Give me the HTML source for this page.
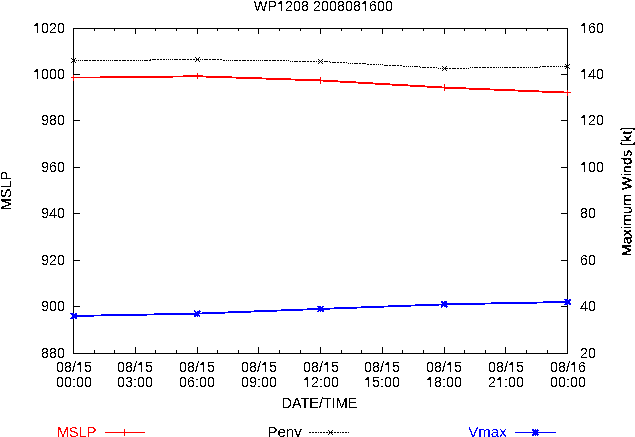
<!DOCTYPE html>
<html><head><meta charset="utf-8"><title>WP1208 2008081600</title>
<style>
html,body{margin:0;padding:0;background:#fff;}
body{width:635px;height:437px;overflow:hidden;}
svg{display:block;}
text{font-family:"Liberation Sans",sans-serif;font-size:14.4px;}
</style></head>
<body>
<svg width="635" height="437" viewBox="0 0 635 437">
<defs>
<filter id="th" x="0" y="0" width="635" height="437" filterUnits="userSpaceOnUse" color-interpolation-filters="sRGB">
<feComponentTransfer><feFuncA type="discrete" tableValues="0 1"/></feComponentTransfer>
</filter>
<filter id="th2" x="0" y="0" width="635" height="437" filterUnits="userSpaceOnUse" color-interpolation-filters="sRGB">
<feComponentTransfer><feFuncA type="discrete" tableValues="0 0 1 1 1"/></feComponentTransfer>
</filter>
</defs>
<rect x="0" y="0" width="635" height="437" fill="#fff"/>
<g shape-rendering="crispEdges">
<rect x="73" y="28" width="495" height="1" fill="#000"/>
<rect x="73" y="353" width="495" height="1" fill="#000"/>
<rect x="73" y="28" width="1" height="326" fill="#000"/>
<rect x="567" y="28" width="1" height="326" fill="#000"/>
<rect x="73" y="28" width="1" height="6" fill="#000"/>
<rect x="73" y="347" width="1" height="7" fill="#000"/>
<rect x="94" y="28" width="1" height="3" fill="#000"/>
<rect x="94" y="350" width="1" height="4" fill="#000"/>
<rect x="114" y="28" width="1" height="3" fill="#000"/>
<rect x="114" y="350" width="1" height="4" fill="#000"/>
<rect x="135" y="28" width="1" height="6" fill="#000"/>
<rect x="135" y="347" width="1" height="7" fill="#000"/>
<rect x="155" y="28" width="1" height="3" fill="#000"/>
<rect x="155" y="350" width="1" height="4" fill="#000"/>
<rect x="176" y="28" width="1" height="3" fill="#000"/>
<rect x="176" y="350" width="1" height="4" fill="#000"/>
<rect x="197" y="28" width="1" height="6" fill="#000"/>
<rect x="197" y="347" width="1" height="7" fill="#000"/>
<rect x="217" y="28" width="1" height="3" fill="#000"/>
<rect x="217" y="350" width="1" height="4" fill="#000"/>
<rect x="238" y="28" width="1" height="3" fill="#000"/>
<rect x="238" y="350" width="1" height="4" fill="#000"/>
<rect x="258" y="28" width="1" height="6" fill="#000"/>
<rect x="258" y="347" width="1" height="7" fill="#000"/>
<rect x="279" y="28" width="1" height="3" fill="#000"/>
<rect x="279" y="350" width="1" height="4" fill="#000"/>
<rect x="300" y="28" width="1" height="3" fill="#000"/>
<rect x="300" y="350" width="1" height="4" fill="#000"/>
<rect x="320" y="28" width="1" height="6" fill="#000"/>
<rect x="320" y="347" width="1" height="7" fill="#000"/>
<rect x="341" y="28" width="1" height="3" fill="#000"/>
<rect x="341" y="350" width="1" height="4" fill="#000"/>
<rect x="361" y="28" width="1" height="3" fill="#000"/>
<rect x="361" y="350" width="1" height="4" fill="#000"/>
<rect x="382" y="28" width="1" height="6" fill="#000"/>
<rect x="382" y="347" width="1" height="7" fill="#000"/>
<rect x="402" y="28" width="1" height="3" fill="#000"/>
<rect x="402" y="350" width="1" height="4" fill="#000"/>
<rect x="423" y="28" width="1" height="3" fill="#000"/>
<rect x="423" y="350" width="1" height="4" fill="#000"/>
<rect x="444" y="28" width="1" height="6" fill="#000"/>
<rect x="444" y="347" width="1" height="7" fill="#000"/>
<rect x="464" y="28" width="1" height="3" fill="#000"/>
<rect x="464" y="350" width="1" height="4" fill="#000"/>
<rect x="485" y="28" width="1" height="3" fill="#000"/>
<rect x="485" y="350" width="1" height="4" fill="#000"/>
<rect x="505" y="28" width="1" height="6" fill="#000"/>
<rect x="505" y="347" width="1" height="7" fill="#000"/>
<rect x="526" y="28" width="1" height="3" fill="#000"/>
<rect x="526" y="350" width="1" height="4" fill="#000"/>
<rect x="547" y="28" width="1" height="3" fill="#000"/>
<rect x="547" y="350" width="1" height="4" fill="#000"/>
<rect x="567" y="28" width="1" height="6" fill="#000"/>
<rect x="567" y="347" width="1" height="7" fill="#000"/>
<rect x="73" y="28" width="7" height="1" fill="#000"/>
<rect x="561" y="28" width="7" height="1" fill="#000"/>
<rect x="73" y="74" width="7" height="1" fill="#000"/>
<rect x="561" y="74" width="7" height="1" fill="#000"/>
<rect x="73" y="120" width="7" height="1" fill="#000"/>
<rect x="561" y="120" width="7" height="1" fill="#000"/>
<rect x="73" y="167" width="7" height="1" fill="#000"/>
<rect x="561" y="167" width="7" height="1" fill="#000"/>
<rect x="73" y="213" width="7" height="1" fill="#000"/>
<rect x="561" y="213" width="7" height="1" fill="#000"/>
<rect x="73" y="260" width="7" height="1" fill="#000"/>
<rect x="561" y="260" width="7" height="1" fill="#000"/>
<rect x="73" y="306" width="7" height="1" fill="#000"/>
<rect x="561" y="306" width="7" height="1" fill="#000"/>
<rect x="73" y="353" width="7" height="1" fill="#000"/>
<rect x="561" y="353" width="7" height="1" fill="#000"/>
</g>
<g shape-rendering="crispEdges">
<polyline points="73.5,60.66 197.5,59.61 320.5,61.47 444.5,68.38 567.5,66.62" fill="none" stroke="#000" stroke-width="1" stroke-dasharray="2 1 1 1 1 1 1 1 1 1 4 1 2 1 4 1 2 1 2 1" />
<rect x="71" y="58" width="1" height="1" fill="#000"/><rect x="71" y="62" width="1" height="1" fill="#000"/><rect x="72" y="59" width="1" height="1" fill="#000"/><rect x="72" y="61" width="1" height="1" fill="#000"/><rect x="73" y="60" width="1" height="1" fill="#000"/><rect x="74" y="61" width="1" height="1" fill="#000"/><rect x="74" y="59" width="1" height="1" fill="#000"/><rect x="75" y="62" width="1" height="1" fill="#000"/><rect x="75" y="58" width="1" height="1" fill="#000"/>
<rect x="195" y="57" width="1" height="1" fill="#000"/><rect x="195" y="61" width="1" height="1" fill="#000"/><rect x="196" y="58" width="1" height="1" fill="#000"/><rect x="196" y="60" width="1" height="1" fill="#000"/><rect x="197" y="59" width="1" height="1" fill="#000"/><rect x="198" y="60" width="1" height="1" fill="#000"/><rect x="198" y="58" width="1" height="1" fill="#000"/><rect x="199" y="61" width="1" height="1" fill="#000"/><rect x="199" y="57" width="1" height="1" fill="#000"/>
<rect x="318" y="59" width="1" height="1" fill="#000"/><rect x="318" y="63" width="1" height="1" fill="#000"/><rect x="319" y="60" width="1" height="1" fill="#000"/><rect x="319" y="62" width="1" height="1" fill="#000"/><rect x="320" y="61" width="1" height="1" fill="#000"/><rect x="321" y="62" width="1" height="1" fill="#000"/><rect x="321" y="60" width="1" height="1" fill="#000"/><rect x="322" y="63" width="1" height="1" fill="#000"/><rect x="322" y="59" width="1" height="1" fill="#000"/>
<rect x="442" y="66" width="1" height="1" fill="#000"/><rect x="442" y="70" width="1" height="1" fill="#000"/><rect x="443" y="67" width="1" height="1" fill="#000"/><rect x="443" y="69" width="1" height="1" fill="#000"/><rect x="444" y="68" width="1" height="1" fill="#000"/><rect x="445" y="69" width="1" height="1" fill="#000"/><rect x="445" y="67" width="1" height="1" fill="#000"/><rect x="446" y="70" width="1" height="1" fill="#000"/><rect x="446" y="66" width="1" height="1" fill="#000"/>
<rect x="565" y="64" width="1" height="1" fill="#000"/><rect x="565" y="68" width="1" height="1" fill="#000"/><rect x="566" y="65" width="1" height="1" fill="#000"/><rect x="566" y="67" width="1" height="1" fill="#000"/><rect x="567" y="66" width="1" height="1" fill="#000"/><rect x="568" y="67" width="1" height="1" fill="#000"/><rect x="568" y="65" width="1" height="1" fill="#000"/><rect x="569" y="68" width="1" height="1" fill="#000"/><rect x="569" y="64" width="1" height="1" fill="#000"/>
<polyline points="73.5,77.57 103,77.43 197.5,76.27 320.5,80.42 444.5,87.57 567.5,92.6" fill="none" stroke="#ff0000" stroke-width="1.87"/>
<rect x="73" y="75" width="1" height="6" fill="#ff0000"/>
<rect x="71" y="77" width="6" height="1" fill="#ff0000"/>
<rect x="197" y="73" width="1" height="6" fill="#ff0000"/>
<rect x="194" y="76" width="7" height="1" fill="#ff0000"/>
<rect x="320" y="77" width="1" height="7" fill="#ff0000"/>
<rect x="317" y="80" width="7" height="1" fill="#ff0000"/>
<rect x="444" y="84" width="1" height="7" fill="#ff0000"/>
<rect x="441" y="87" width="7" height="1" fill="#ff0000"/>
<rect x="567" y="90" width="1" height="6" fill="#ff0000"/>
<rect x="564" y="92" width="7" height="1" fill="#ff0000"/>
<polyline points="73.5,315.97 197.5,313.62 320.5,308.92 444.5,304.35 567.5,301.98" fill="none" stroke="#0000ff" stroke-width="1.87"/>
<rect x="70" y="313" width="4" height="1" fill="#0000ff"/><rect x="75" y="313" width="2" height="1" fill="#0000ff"/><rect x="71" y="314" width="6" height="1" fill="#0000ff"/><rect x="72" y="315" width="5" height="1" fill="#0000ff"/><rect x="72" y="316" width="5" height="1" fill="#0000ff"/><rect x="71" y="317" width="6" height="1" fill="#0000ff"/><rect x="70" y="318" width="4" height="1" fill="#0000ff"/><rect x="75" y="318" width="2" height="1" fill="#0000ff"/>
<rect x="194" y="310" width="1" height="1" fill="#0000ff"/><rect x="199" y="310" width="1" height="1" fill="#0000ff"/><rect x="194" y="311" width="2" height="1" fill="#0000ff"/><rect x="197" y="311" width="4" height="1" fill="#0000ff"/><rect x="195" y="312" width="5" height="1" fill="#0000ff"/><rect x="194" y="313" width="7" height="1" fill="#0000ff"/><rect x="194" y="314" width="5" height="1" fill="#0000ff"/><rect x="194" y="315" width="6" height="1" fill="#0000ff"/><rect x="194" y="316" width="2" height="1" fill="#0000ff"/><rect x="197" y="316" width="1" height="1" fill="#0000ff"/><rect x="199" y="316" width="1" height="1" fill="#0000ff"/>
<rect x="317" y="306" width="4" height="1" fill="#0000ff"/><rect x="322" y="306" width="2" height="1" fill="#0000ff"/><rect x="318" y="307" width="5" height="1" fill="#0000ff"/><rect x="317" y="308" width="7" height="1" fill="#0000ff"/><rect x="317" y="309" width="7" height="1" fill="#0000ff"/><rect x="318" y="310" width="6" height="1" fill="#0000ff"/><rect x="317" y="311" width="2" height="1" fill="#0000ff"/><rect x="320" y="311" width="1" height="1" fill="#0000ff"/><rect x="322" y="311" width="2" height="1" fill="#0000ff"/>
<rect x="441" y="301" width="2" height="1" fill="#0000ff"/><rect x="444" y="301" width="3" height="1" fill="#0000ff"/><rect x="441" y="302" width="6" height="1" fill="#0000ff"/><rect x="442" y="303" width="6" height="1" fill="#0000ff"/><rect x="441" y="304" width="7" height="1" fill="#0000ff"/><rect x="441" y="305" width="6" height="1" fill="#0000ff"/><rect x="441" y="306" width="2" height="1" fill="#0000ff"/><rect x="444" y="306" width="4" height="1" fill="#0000ff"/><rect x="441" y="307" width="1" height="1" fill="#0000ff"/><rect x="446" y="307" width="1" height="1" fill="#0000ff"/>
<rect x="564" y="299" width="4" height="1" fill="#0000ff"/><rect x="569" y="299" width="2" height="1" fill="#0000ff"/><rect x="565" y="300" width="6" height="1" fill="#0000ff"/><rect x="564" y="301" width="6" height="1" fill="#0000ff"/><rect x="564" y="302" width="6" height="1" fill="#0000ff"/><rect x="565" y="303" width="6" height="1" fill="#0000ff"/><rect x="564" y="304" width="4" height="1" fill="#0000ff"/><rect x="569" y="304" width="2" height="1" fill="#0000ff"/>
<rect x="105" y="432" width="40" height="1" fill="#ff0000"/>
<rect x="124" y="429" width="1" height="7" fill="#ff0000"/>
<line x1="309" y1="432.5" x2="349" y2="432.5" stroke="#000" stroke-width="1" stroke-dasharray="2 1 2 1 2 1 1 1"/>
<rect x="328" y="430" width="1" height="1" fill="#000"/><rect x="328" y="434" width="1" height="1" fill="#000"/><rect x="329" y="431" width="1" height="1" fill="#000"/><rect x="329" y="433" width="1" height="1" fill="#000"/><rect x="330" y="432" width="1" height="1" fill="#000"/><rect x="331" y="433" width="1" height="1" fill="#000"/><rect x="331" y="431" width="1" height="1" fill="#000"/><rect x="332" y="434" width="1" height="1" fill="#000"/><rect x="332" y="430" width="1" height="1" fill="#000"/>
<rect x="515" y="432" width="41" height="1" fill="#0000ff"/>
<rect x="532" y="429" width="2" height="1" fill="#0000ff"/><rect x="535" y="429" width="1" height="1" fill="#0000ff"/><rect x="537" y="429" width="1" height="1" fill="#0000ff"/><rect x="532" y="430" width="7" height="1" fill="#0000ff"/><rect x="533" y="431" width="5" height="1" fill="#0000ff"/><rect x="532" y="432" width="7" height="1" fill="#0000ff"/><rect x="533" y="433" width="5" height="1" fill="#0000ff"/><rect x="532" y="434" width="7" height="1" fill="#0000ff"/><rect x="532" y="435" width="2" height="1" fill="#0000ff"/><rect x="535" y="435" width="1" height="1" fill="#0000ff"/><rect x="537" y="435" width="1" height="1" fill="#0000ff"/>
</g>
<g filter="url(#th)">
<text x="253.8" y="11" fill="#000">WP1208 2008081600</text>
<text x="33" y="33" fill="#000">1020</text>
<text x="580" y="33" fill="#000">160</text>
<text x="33" y="79" fill="#000">1000</text>
<text x="580" y="79" fill="#000">140</text>
<text x="41" y="125" fill="#000">980</text>
<text x="580" y="125" fill="#000">120</text>
<text x="41" y="172" fill="#000">960</text>
<text x="580" y="172" fill="#000">100</text>
<text x="41" y="218" fill="#000">940</text>
<text x="580" y="218" fill="#000">80</text>
<text x="41" y="265" fill="#000">920</text>
<text x="580" y="265" fill="#000">60</text>
<text x="41" y="311" fill="#000">900</text>
<text x="580" y="311" fill="#000">40</text>
<text x="41" y="358" fill="#000">880</text>
<text x="580" y="358" fill="#000">20</text>
<text x="56" y="372" fill="#000">08/15</text>
<text x="56" y="387" fill="#000">00:00</text>
<text x="117" y="372" fill="#000">08/15</text>
<text x="117" y="387" fill="#000">03:00</text>
<text x="179" y="372" fill="#000">08/15</text>
<text x="179" y="387" fill="#000">06:00</text>
<text x="241" y="372" fill="#000">08/15</text>
<text x="241" y="387" fill="#000">09:00</text>
<text x="303" y="372" fill="#000">08/15</text>
<text x="303" y="387" fill="#000">12:00</text>
<text x="364" y="372" fill="#000">08/15</text>
<text x="364" y="387" fill="#000">15:00</text>
<text x="426" y="372" fill="#000">08/15</text>
<text x="426" y="387" fill="#000">18:00</text>
<text x="488" y="372" fill="#000">08/15</text>
<text x="488" y="387" fill="#000">21:00</text>
<text x="550" y="372" fill="#000">08/16</text>
<text x="550" y="387" fill="#000">00:00</text>
<text transform="translate(281.6,407.6) scale(1,1)" fill="#000">DATE/TIME</text>
<text transform="translate(57.1,436.6) scale(1,1)" fill="#ff0000">MSLP</text>
<text x="267.6" y="436.6" style="font-size:15px">Penv</text>
<text x="468.3" y="436.6" fill="#0000ff" style="font-size:15px">Vmax</text>
</g>
<g filter="url(#th2)">
<text transform="translate(10.6,190.5) rotate(-90)" text-anchor="middle">MSLP</text>
<text transform="translate(631.6,191.5) rotate(-90)" text-anchor="middle">Maximum Winds [kt]</text>
</g>
<g shape-rendering="crispEdges">
<rect x="278" y="10" width="3" height="1" fill="#fff"/><rect x="282" y="10" width="2" height="1" fill="#fff"/><rect x="278" y="3" width="3" height="1" fill="#000"/><rect x="362" y="10" width="3" height="1" fill="#fff"/><rect x="366" y="10" width="2" height="1" fill="#fff"/><rect x="362" y="3" width="3" height="1" fill="#000"/><rect x="34" y="32" width="3" height="1" fill="#fff"/><rect x="38" y="32" width="2" height="1" fill="#fff"/><rect x="34" y="25" width="3" height="1" fill="#000"/><rect x="581" y="32" width="3" height="1" fill="#fff"/><rect x="585" y="32" width="2" height="1" fill="#fff"/><rect x="581" y="25" width="3" height="1" fill="#000"/><rect x="34" y="78" width="3" height="1" fill="#fff"/><rect x="38" y="78" width="2" height="1" fill="#fff"/><rect x="34" y="71" width="3" height="1" fill="#000"/><rect x="581" y="78" width="3" height="1" fill="#fff"/><rect x="585" y="78" width="2" height="1" fill="#fff"/><rect x="581" y="71" width="3" height="1" fill="#000"/><rect x="581" y="124" width="3" height="1" fill="#fff"/><rect x="585" y="124" width="2" height="1" fill="#fff"/><rect x="581" y="117" width="3" height="1" fill="#000"/><rect x="581" y="171" width="3" height="1" fill="#fff"/><rect x="585" y="171" width="2" height="1" fill="#fff"/><rect x="581" y="164" width="3" height="1" fill="#000"/><rect x="77" y="371" width="3" height="1" fill="#fff"/><rect x="81" y="371" width="2" height="1" fill="#fff"/><rect x="77" y="364" width="3" height="1" fill="#000"/><rect x="138" y="371" width="3" height="1" fill="#fff"/><rect x="142" y="371" width="2" height="1" fill="#fff"/><rect x="138" y="364" width="3" height="1" fill="#000"/><rect x="200" y="371" width="3" height="1" fill="#fff"/><rect x="204" y="371" width="2" height="1" fill="#fff"/><rect x="200" y="364" width="3" height="1" fill="#000"/><rect x="262" y="371" width="3" height="1" fill="#fff"/><rect x="266" y="371" width="2" height="1" fill="#fff"/><rect x="262" y="364" width="3" height="1" fill="#000"/><rect x="324" y="371" width="3" height="1" fill="#fff"/><rect x="328" y="371" width="2" height="1" fill="#fff"/><rect x="324" y="364" width="3" height="1" fill="#000"/><rect x="304" y="386" width="3" height="1" fill="#fff"/><rect x="308" y="386" width="2" height="1" fill="#fff"/><rect x="304" y="379" width="3" height="1" fill="#000"/><rect x="385" y="371" width="3" height="1" fill="#fff"/><rect x="389" y="371" width="2" height="1" fill="#fff"/><rect x="385" y="364" width="3" height="1" fill="#000"/><rect x="365" y="386" width="3" height="1" fill="#fff"/><rect x="369" y="386" width="2" height="1" fill="#fff"/><rect x="365" y="379" width="3" height="1" fill="#000"/><rect x="447" y="371" width="3" height="1" fill="#fff"/><rect x="451" y="371" width="2" height="1" fill="#fff"/><rect x="447" y="364" width="3" height="1" fill="#000"/><rect x="427" y="386" width="3" height="1" fill="#fff"/><rect x="431" y="386" width="2" height="1" fill="#fff"/><rect x="427" y="379" width="3" height="1" fill="#000"/><rect x="509" y="371" width="3" height="1" fill="#fff"/><rect x="513" y="371" width="2" height="1" fill="#fff"/><rect x="509" y="364" width="3" height="1" fill="#000"/><rect x="497" y="386" width="3" height="1" fill="#fff"/><rect x="501" y="386" width="2" height="1" fill="#fff"/><rect x="497" y="379" width="3" height="1" fill="#000"/><rect x="571" y="371" width="3" height="1" fill="#fff"/><rect x="575" y="371" width="2" height="1" fill="#fff"/><rect x="571" y="364" width="3" height="1" fill="#000"/>
</g>
</svg>
</body></html>
